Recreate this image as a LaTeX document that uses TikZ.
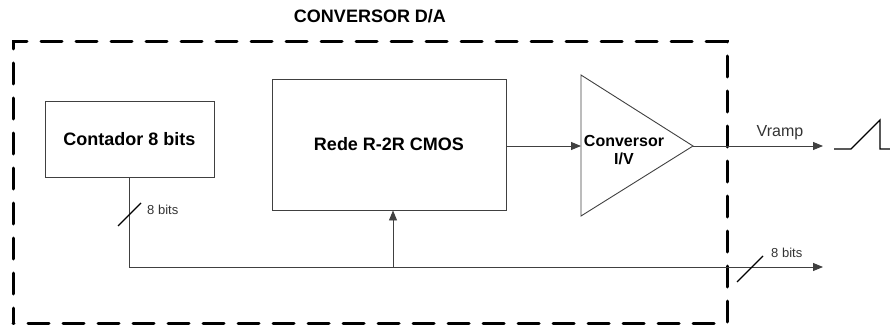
\documentclass[tikz,border=0pt]{standalone}
\usepackage{fontspec}
\setmainfont{Liberation Sans}
\usetikzlibrary{arrows.meta}

\begin{document}
\begin{tikzpicture}[x=1pt,y=-1pt,
  blk/.style={draw=black!75,line width=0.9pt,inner sep=0pt,
    font=\bfseries\fontsize{18}{20}\selectfont},
  wire/.style={draw=black!75,line width=0.9pt},
  arr/.style={wire,-{Triangle[length=10pt,width=8pt]}},
  slash/.style={black,line width=1.3pt},
  lbl/.style={inner sep=0pt,font=\fontsize{13}{15}\selectfont,text=black!80}]
\useasboundingbox (0,0) rectangle (890,326);
\draw [black,line width=3pt,line cap=round,dash pattern=on 21pt off 14pt,dash phase=6pt] (13,323) -- (13,42) -- (727,42) -- (727,323) -- cycle;
\node [inner sep=0pt,font=\bfseries\fontsize{18}{20}\selectfont] (title) at (370,16) {CONVERSOR D/A};
\node [blk,minimum width=169pt,minimum height=76pt] (cont) at (129.5,139) {Contador 8 bits};
\node [blk,minimum width=234pt,minimum height=131pt] (rede) at (389,144.5) {Rede R-2R CMOS};
% amplificador I/V
\coordinate (convin) at (581,146);
\coordinate (convout) at (693,146);
\draw [wire] (581,75) -- (convout) -- (581,216) -- cycle;
\node [inner sep=0pt,align=center,font=\bfseries\fontsize{16}{18}\selectfont] (convlbl) at (624,150) {Conversor\\I/V};
\draw [arr] (rede.east |- convin) -- (convin);
\coordinate (vout) at (823,146);
\draw [arr] (convout) -- (vout);
\node [lbl,font=\fontsize{16}{18}\selectfont] (vramp) at (780,133) {Vramp};
\draw [black,line width=1.3pt] (834,149) -- (851,149) -- (880,120) -- (880,149) -- (890,149);
% barramento de 8 bits
\coordinate (busend) at (823,267);
\coordinate (tap) at (393,267);
\draw [arr] (cont.south) |- (busend);
\draw [arr] (tap) -- (tap |- rede.south);
\draw [slash] (118,226) -- (141,203);
\node [lbl,anchor=west] (bitsa) at (147,210) {8 bits};
\draw [slash] (737,282) -- (763,256);
\node [lbl,anchor=west] (bitsb) at (771,253) {8 bits};
\end{tikzpicture}
\end{document}
